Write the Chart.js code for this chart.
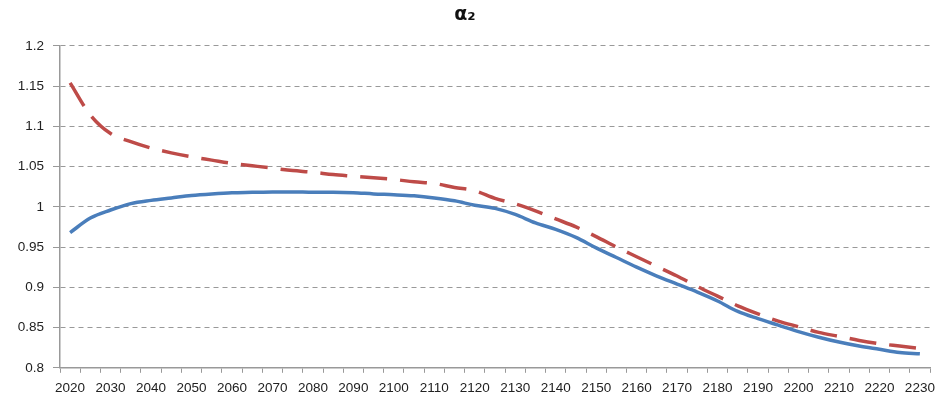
<!DOCTYPE html>
<html>
<head>
<meta charset="utf-8">
<script src="https://cdn.jsdelivr.net/npm/chart.js@4/dist/chart.umd.min.js"></script>
<style>
  html, body { margin: 0; padding: 0; background: #fff; }
  #wrap { width: 943px; height: 408px; }
</style>
</head>
<body>
<div id="wrap"><canvas id="chart" width="943" height="408"></canvas></div>
<script>
// years, 5-year steps 2020..2230
const years = [];
for (let y = 2020; y <= 2230; y += 5) years.push(String(y));

// solid blue series
const seriesSolid = [
  0.968, 0.986, 0.996, 1.004, 1.008, 1.011, 1.014, 1.016, 1.0175, 1.018, 1.0185,
  1.0185, 1.018, 1.018, 1.0175, 1.016, 1.015, 1.0136, 1.011, 1.0074, 1.002,
  0.998, 0.9905, 0.980, 0.972, 0.962, 0.949, 0.937, 0.925, 0.914, 0.904,
  0.894, 0.883, 0.870, 0.861, 0.853, 0.845, 0.838, 0.832, 0.827, 0.823,
  0.819, 0.8175
];

// dashed red series
const seriesDashed = [
  1.154, 1.114, 1.091, 1.081, 1.073, 1.067, 1.062, 1.058, 1.054, 1.051, 1.048,
  1.045, 1.043, 1.040, 1.038, 1.036, 1.034, 1.031, 1.029, 1.024, 1.020,
  1.0105, 1.0037, 0.995, 0.985, 0.975, 0.963, 0.950, 0.938, 0.926, 0.914,
  0.901, 0.889, 0.877, 0.867, 0.858, 0.851, 0.844, 0.839, 0.834, 0.830,
  0.827, 0.824
];

const yMin = 0.8, yMax = 1.2, yStep = 0.05;

const font = { family: "'Liberation Sans', Arial, sans-serif", size: 13.5 };

new Chart(document.getElementById('chart').getContext('2d'), {
  type: 'line',
  data: {
    labels: years,
    datasets: [
      {
        data: seriesDashed,
        borderColor: '#be4b48',
        borderWidth: 3.5,
        borderDash: [27, 13],
        pointRadius: 0,
        tension: 0.4,
        cubicInterpolationMode: 'monotone',
        fill: false
      },
      {
        data: seriesSolid,
        borderColor: '#4a7ebb',
        borderWidth: 3.5,
        pointRadius: 0,
        tension: 0.4,
        cubicInterpolationMode: 'monotone',
        fill: false
      }
    ]
  },
  options: {
    responsive: false,
    animation: false,
    layout: { padding: { left: 0, right: 13, top: 0, bottom: 5 } },
    plugins: {
      legend: { display: false },
      tooltip: { enabled: false },
      title: {
        display: true,
        text: 'α₂',
        color: '#111',
        font: { family: "'DejaVu Sans', sans-serif", size: 19, weight: 'bold' },
        padding: { top: 4, bottom: 19 }
      }
    },
    scales: {
      x: {
        type: 'category',
        offset: true,
        grid: {
          offset: true,
          drawOnChartArea: false,
          drawTicks: true,
          tickLength: 5,
          color: '#999'
        },
        border: { color: '#999', width: 1.5 },
        ticks: {
          autoSkip: false,
          maxRotation: 0,
          color: '#222',
          font: font,
          padding: 7,
          callback: function (v, i) { return i % 2 === 0 ? this.getLabelForValue(v) : ''; }
        }
      },
      y: {
        min: yMin,
        max: yMax,
        afterFit: function (s) { s.width = 60; },
        grid: {
          color: '#999',
          tickLength: 7,
          tickColor: '#999'
        },
        // in v4 the dash of the grid lines comes from border.dash
        border: { color: '#999', width: 1.5, dash: [5, 4] },
        ticks: {
          stepSize: yStep,
          color: '#222',
          font: font,
          padding: 9,
          callback: v => String(parseFloat(v.toFixed(2)))
        }
      }
    }
  }
});
</script>
</body>
</html>
